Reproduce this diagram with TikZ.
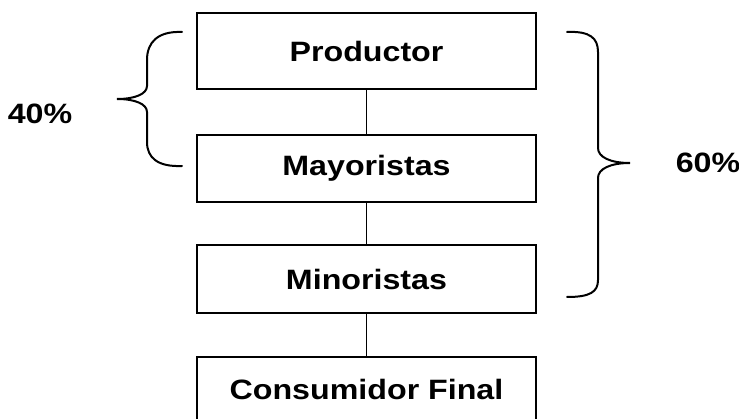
\documentclass[tikz,border=0pt]{standalone}
\usepackage{fontspec}
\setmainfont{Liberation Sans}[FakeStretch=1.15]
\usetikzlibrary{positioning}
\tikzset{
  caja/.style={draw,line width=2.6pt,minimum width=339pt,inner sep=0pt,font=\fontsize{28}{32}\selectfont\bfseries},
  llave/.style={line width=2pt,line cap=round},
  etiqueta/.style={font=\fontsize{28}{32}\selectfont\bfseries,inner sep=0pt}
}
\begin{document}
\begin{tikzpicture}[x=1pt,y=-1pt]
\useasboundingbox(0,0)rectangle(739,419);
\node[caja,minimum height=76pt](prod)at(366.5,51){Productor};
\node[caja,minimum height=67pt](mayo)at(366.5,168.5){Mayoristas};
\node[caja,minimum height=68pt](mino)at(366.5,279){Minoristas};
\node[caja,minimum height=64pt](cons)at(366.5,389){Consumidor Final};
\draw[line width=1.3pt](prod)--(mayo);
\draw[line width=1.3pt](mayo)--(mino);
\draw[line width=1.3pt](mino)--(cons);
%llave izquierda
\draw[llave](182,32)..controls(158,31)and(147,42)..(147,60)--(147,86)
  ..controls(147,94)and(135,99)..(117,99)
  ..controls(135,99)and(147,104)..(147,112)--(147,142)
  ..controls(147,158)and(158,167)..(182,166);
\node[etiqueta](izq)at(40,114){40\%};
%llave derecha
\draw[llave](567,32)..controls(590,31)and(598,38)..(598,52)--(598,148)
  ..controls(598,157)and(610,163)..(630,163)
  ..controls(610,163)and(598,169)..(598,178)--(598,280)
  ..controls(598,292)and(590,297)..(567,297);
\node[etiqueta](der)at(708,163){60\%};
\end{tikzpicture}
\end{document}
